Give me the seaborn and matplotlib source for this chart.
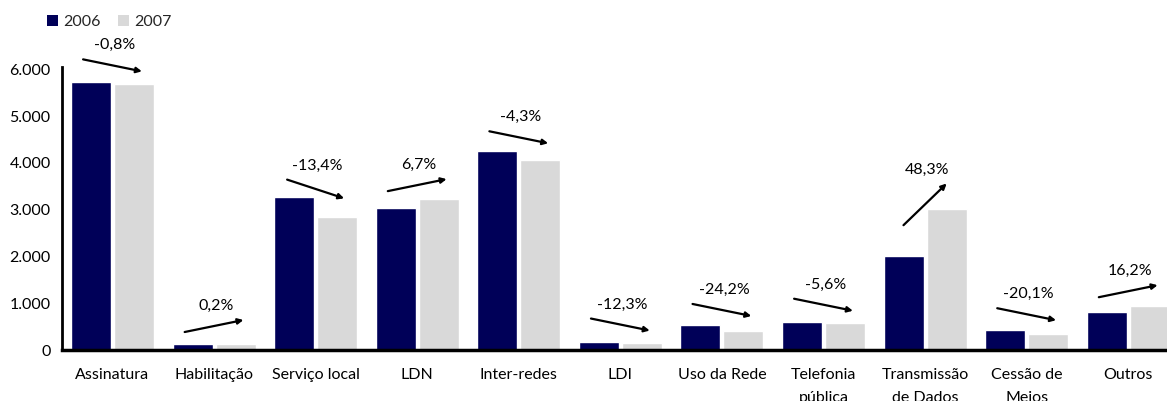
import numpy as np
import pandas as pd
import matplotlib
matplotlib.use("Agg")
import matplotlib.pyplot as plt
from matplotlib.patches import Patch
from matplotlib.ticker import FuncFormatter
import seaborn as sns

# ---- data ----
categories = ["Assinatura", "Habilitação", "Serviço local", "LDN", "Inter-redes", "LDI",
              "Uso da Rede", "Telefonia\npública", "Transmissão\nde Dados", "Cessão de\nMeios", "Outros"]
values_2006 = [5720, 128, 3280, 3045, 4255, 170, 532, 596, 2020, 425, 808]
values_2007 = [5680, 128, 2835, 3235, 4070, 149, 410, 570, 3010, 335, 936]
changes = ["-0,8%", "0,2%", "-13,4%", "6,7%", "-4,3%", "-12,3%", "-24,2%", "-5,6%", "48,3%", "-20,1%", "16,2%"]
change_sign = [-1, 1, -1, 1, -1, -1, -1, -1, 1, -1, 1]
years = ["2006", "2007"]
yticks = [0, 1000, 2000, 3000, 4000, 5000, 6000]

df = pd.DataFrame({
    "categoria": categories * 2,
    "ano": [years[0]] * len(categories) + [years[1]] * len(categories),
    "valor": values_2006 + values_2007,
})

sns.set_theme(style="white")
plt.rcParams["font.family"] = ["Lato", "DejaVu Sans"]

NAVY = "#000058"
GRAY = "#D9D9D9"
FS = 11.5

fig = plt.figure(figsize=(11.67, 4.01), dpi=100)
ax = fig.add_axes([61.7 / 1167, 51 / 401, (1179 - 61.7) / 1167, 283 / 401])

sns.barplot(data=df, x="categoria", y="valor", hue="ano", order=categories,
            hue_order=years, palette=[NAVY, GRAY], width=0.846, gap=0.07,
            saturation=1, errorbar=None, legend=False, ax=ax)

ax.set_xlim(-0.5, len(categories) - 0.5)
ax.set_ylim(0, 6050)
ax.set_yticks(yticks)
ax.yaxis.set_major_formatter(FuncFormatter(lambda v, p: f"{int(v):,}".replace(",", ".")))
ax.set_xlabel("")
ax.set_ylabel("")
ax.tick_params(axis="y", length=0, pad=8, labelsize=FS, labelcolor="black")
ax.tick_params(axis="x", length=0, pad=13, labelsize=FS, labelcolor="black")
for t in ax.get_xticklabels():
    t.set_linespacing(1.8)
for s in ["top", "right"]:
    ax.spines[s].set_visible(False)
ax.spines["left"].set_color("black")
ax.spines["left"].set_linewidth(2)
ax.spines["bottom"].set_color("black")
ax.spines["bottom"].set_linewidth(2.5)
ax.grid(False)

# ---- change arrows & labels (derived from bar values) ----
fig.canvas.draw()
to_disp = ax.transData.transform
to_data = ax.transData.inverted().transform
ARROW_LEN = 60.0
for i, (v6, v7, lab, sg) in enumerate(zip(values_2006, values_2007, changes, change_sign)):
    cx, t6 = to_disp((i, v6))
    _, t7 = to_disp((i, v7))
    dy = sg * max(12.0, abs(t7 - t6) * 0.9)
    mid_y = (t6 + t7) / 2 + 18 + max(0.0, abs(dy) - 25) * 0.6
    dx = np.sqrt(max(ARROW_LEN ** 2 - dy ** 2, 30 ** 2))
    start = to_data((cx - dx / 2, mid_y - dy / 2))
    end = to_data((cx + dx / 2, mid_y + dy / 2))
    ax.annotate("", xy=end, xytext=start, xycoords="data", textcoords="data",
                arrowprops=dict(arrowstyle="-|>", lw=1.6, color="black",
                                mutation_scale=8, shrinkA=0, shrinkB=0),
                annotation_clip=False)
    top = max(mid_y + dy / 2, mid_y - dy / 2)
    lx, ly = to_data((cx + 2, top + 14))
    ax.text(lx, ly, lab, ha="center", va="center", fontsize=FS, color="black")

# ---- legend ----
handles = [Patch(facecolor=NAVY, edgecolor="none"), Patch(facecolor=GRAY, edgecolor="none")]
fig.legend(handles, years, loc="upper left", bbox_to_anchor=(47 / 1167, 1 - 15 / 401),
           ncol=2, frameon=False, fontsize=FS, handlelength=0.66, handleheight=0.66,
           handletextpad=0.35, columnspacing=1.1, borderpad=0, borderaxespad=0)

fig.savefig("out.png", dpi=100)
